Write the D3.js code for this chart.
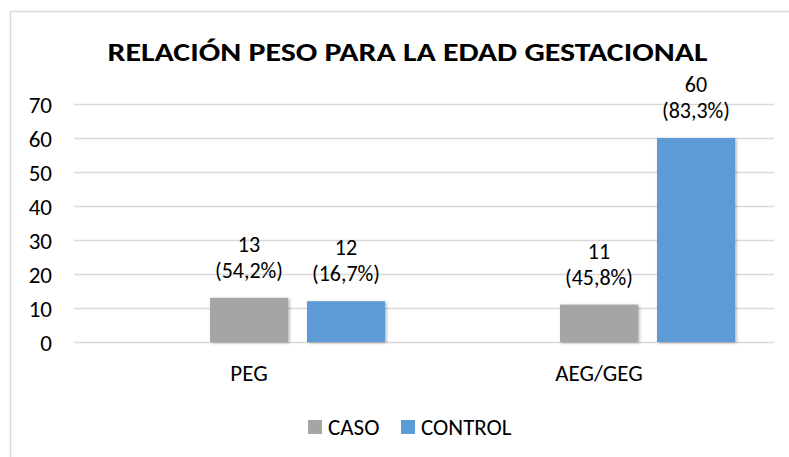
<!DOCTYPE html>
<html>
<head>
<meta charset="utf-8">
<script src="https://cdn.jsdelivr.net/npm/d3@7"></script>
<style>
  body { margin: 0; background: #fff; }
  text { font-family: Carlito, "Open Sans", sans-serif; fill: #000; }
</style>
</head>
<body>
<div class="chart"></div>
<script>
// Data
var categories = ["PEG", "AEG/GEG"];
var seriesNames = ["CASO", "CONTROL"];
var casoValues = [13, 11];
var controlValues = [12, 60];
var casoPct = ["54,2%", "45,8%"];
var controlPct = ["16,7%", "83,3%"];
var yTicks = [0, 10, 20, 30, 40, 50, 60, 70];
var seriesColors = ["#a5a5a5", "#5b9bd5"];

var width = 789,
  height = 457,
  plotLeft = 74,
  plotRight = 774,
  plotTop = 104,
  plotBottom = 342,
  labelSize = "23px",
  valueSize = "22px";

var svg = d3.select(".chart").append("svg")
  .attr("width", width)
  .attr("height", height);

// soft shadow like the Excel bars
var filter = svg.append("defs").append("filter")
  .attr("id", "shadow")
  .attr("x", "-10%").attr("y", "-10%")
  .attr("width", "130%").attr("height", "130%");
filter.append("feDropShadow")
  .attr("dx", 1.5).attr("dy", 1)
  .attr("stdDeviation", 1.5)
  .attr("flood-color", "#000")
  .attr("flood-opacity", 0.3);

// chart frame (cropped on the right and bottom)
svg.append("rect")
  .attr("x", 10.5).attr("y", 11.5)
  .attr("width", 820).attr("height", 470)
  .attr("fill", "none")
  .attr("stroke", "#d9d9d9")
  .attr("stroke-width", 1.5);

svg.append("text")
  .attr("x", 407.5)
  .attr("y", 61)
  .attr("text-anchor", "middle")
  .attr("textLength", 600)
  .attr("lengthAdjust", "spacingAndGlyphs")
  .style("font-size", "26px")
  .style("font-weight", "bold")
  .text("RELACIÓN PESO PARA LA EDAD GESTACIONAL");

var x = d3.scaleBand()
  .domain(categories)
  .range([plotLeft, plotRight])
  .paddingInner(78 / 350)
  .paddingOuter(39 / 350);

// first slot is an empty series, so CASO sits on the category centre
var xInner = d3.scaleBand()
  .domain(["", "CASO", "CONTROL"])
  .range([0, x.bandwidth()])
  .paddingInner(19 / 97);

var y = d3.scaleLinear()
  .domain([0, 70])
  .range([plotBottom, plotTop]);

// gridlines
svg.append("g")
  .selectAll("line")
  .data(yTicks)
  .enter().append("line")
    .attr("x1", plotLeft).attr("x2", plotRight)
    .attr("y1", function(d) { return Math.round(y(d)) + 0.5; })
    .attr("y2", function(d) { return Math.round(y(d)) + 0.5; })
    .attr("stroke", "#d9d9d9")
    .attr("stroke-width", 1.5);

// y axis labels
var yAxis = d3.axisLeft(y).tickValues(yTicks).tickSize(0).tickPadding(0);
var yAxisG = svg.append("g")
  .attr("transform", "translate(52,0)")
  .call(yAxis);
yAxisG.select(".domain").remove();
yAxisG.selectAll("text")
  .attr("dy", "0.35em")
  .style("font-family", 'Carlito, "Open Sans", sans-serif')
  .style("font-size", labelSize)
  .attr("fill", "#000");

// x axis labels
var xAxis = d3.axisBottom(x).tickSize(0).tickPadding(0);
var xAxisG = svg.append("g")
  .attr("transform", "translate(0,373)")
  .call(xAxis);
xAxisG.select(".domain").remove();
xAxisG.selectAll("text")
  .attr("y", 0)
  .attr("dy", "0.35em")
  .style("font-family", 'Carlito, "Open Sans", sans-serif')
  .style("font-size", labelSize)
  .attr("fill", "#000");

// bar rows built from the arrays
var rows = [];
categories.forEach(function(c, i) {
  rows.push({ cat: c, series: "CASO", value: casoValues[i], pct: casoPct[i], color: seriesColors[0] });
  rows.push({ cat: c, series: "CONTROL", value: controlValues[i], pct: controlPct[i], color: seriesColors[1] });
});

var bars = svg.append("g").selectAll("g")
  .data(rows)
  .enter().append("g")
    .attr("transform", function(d) { return "translate(" + (x(d.cat) + xInner(d.series)) + ",0)"; });

bars.append("rect")
  .attr("x", 0)
  .attr("width", xInner.bandwidth())
  .attr("y", function(d) { return y(d.value); })
  .attr("height", function(d) { return y(0) - y(d.value); })
  .attr("fill", function(d) { return d.color; })
  .attr("filter", "url(#shadow)");

bars.append("text")
  .attr("x", xInner.bandwidth() / 2)
  .attr("y", function(d) { return y(d.value) - 46; })
  .attr("text-anchor", "middle")
  .style("font-size", valueSize)
  .text(function(d) { return d.value; });

bars.append("text")
  .attr("x", xInner.bandwidth() / 2)
  .attr("y", function(d) { return y(d.value) - 20; })
  .attr("text-anchor", "middle")
  .style("font-size", valueSize)
  .text(function(d) { return "(" + d.pct + ")"; });

// legend
var legendX = [308, 401];
var legend = svg.append("g").selectAll("g")
  .data(seriesNames)
  .enter().append("g")
    .attr("transform", function(d, i) { return "translate(" + legendX[i] + ",420)"; });

legend.append("rect")
  .attr("width", 14).attr("height", 14)
  .attr("fill", function(d, i) { return seriesColors[i]; });

legend.append("text")
  .attr("x", 20)
  .attr("y", 14.5)
  .style("font-size", labelSize)
  .text(function(d) { return d; });
</script>
</body>
</html>
